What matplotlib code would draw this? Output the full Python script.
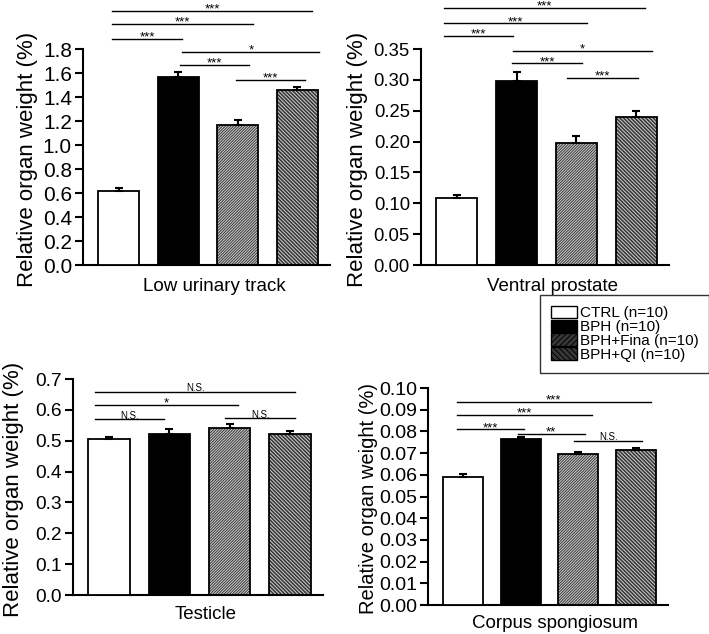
import numpy as np
import matplotlib
matplotlib.use('Agg')
import matplotlib.pyplot as plt
from matplotlib.patches import Patch
from matplotlib.ticker import FormatStrFormatter

plt.rcParams['font.family'] = ['Liberation Sans', 'DejaVu Sans']
plt.rcParams['hatch.linewidth'] = 0.7

groups = ['CTRL (n=10)', 'BPH (n=10)', 'BPH+Fina (n=10)', 'BPH+QI (n=10)']

# organ weights (mean, SEM)
urinary_mean = [0.62, 1.57, 1.17, 1.455]
urinary_err = [0.02, 0.035, 0.035, 0.025]
prostate_mean = [0.108, 0.298, 0.197, 0.240]
prostate_err = [0.006, 0.015, 0.012, 0.010]
testicle_mean = [0.505, 0.522, 0.541, 0.522]
testicle_err = [0.007, 0.015, 0.013, 0.010]
corpus_mean = [0.059, 0.0763, 0.0698, 0.0715]
corpus_err = [0.0012, 0.0012, 0.0008, 0.0010]

# significance brackets: (x start, x end, y, label)
urinary_sig = [(-0.11, 3.25, 2.117, '***'), (-0.11, 2.26, 2.008, '***'),
               (-0.11, 1.07, 1.883, '***'), (1.07, 3.37, 1.775, '*'),
               (1.03, 2.19, 1.667, '***'), (1.97, 3.13, 1.542, '***')]
prostate_sig = [(-0.21, 3.14, 0.4165, '***'), (-0.21, 2.17, 0.392, '***'),
                (-0.21, 0.94, 0.371, '***'), (0.94, 3.26, 0.347, '*'),
                (0.92, 2.10, 0.327, '***'), (1.85, 3.03, 0.303, '***')]
testicle_sig = [(-0.23, 3.09, 0.659, 'N.S.'), (-0.23, 2.14, 0.616, '*'),
                (-0.23, 0.91, 0.570, 'N.S.'), (1.92, 3.09, 0.573, 'N.S.')]
corpus_sig = [(-0.10, 3.25, 0.0937, '***'), (-0.10, 2.24, 0.0876, '***'),
              (-0.10, 1.06, 0.081, '***'), (0.95, 2.11, 0.0788, '**'),
              (1.93, 3.10, 0.0757, 'N.S.')]

dark = '#383838'
stripe = '#d0d0d0'
styles = [dict(color='white', hatch=None), dict(color='black', hatch=None),
          dict(color=dark, hatch='/' * 12), dict(color=dark, hatch='\\' * 9)]


def draw_panel(ax, means, errs, sig, ymax, step, fmt, xlabel, lab_x, lab_y,
               tick_size, ylab_size):
    x = np.arange(len(means))
    for i in range(len(means)):
        st = styles[i]
        if st['hatch']:
            ax.bar(x[i], means[i], width=0.69, color=st['color'],
                   edgecolor=stripe, hatch=st['hatch'], linewidth=0, zorder=2)
            ax.bar(x[i], means[i], width=0.69, fill=False,
                   edgecolor='black', linewidth=1.3, zorder=3)
        else:
            ax.bar(x[i], means[i], width=0.69, color=st['color'],
                   edgecolor='black', linewidth=1.3, zorder=3)
    ax.errorbar(x, means, yerr=[np.zeros(len(errs)), errs], fmt='none',
                ecolor='black', elinewidth=1.5, capsize=3, capthick=1.5, zorder=4)
    ax.set_xlim(-0.6, 3.55)
    ax.set_ylim(0, ymax)
    ax.set_yticks(np.arange(0, ymax + step / 2, step))
    ax.yaxis.set_major_formatter(FormatStrFormatter(fmt))
    ax.set_xticks([])
    ax.spines['top'].set_visible(False)
    ax.spines['right'].set_visible(False)
    ax.spines['left'].set_linewidth(1.5)
    ax.spines['bottom'].set_linewidth(1.5)
    ax.tick_params(axis='y', direction='out', length=6, width=1.5,
                   labelsize=tick_size, pad=2)
    ax.set_ylabel('Relative organ weight (%)', fontsize=ylab_size, va='center')
    ax.yaxis.set_label_coords(lab_x, 0.49)
    ax.set_xlabel(xlabel, fontsize=13.5)
    ax.xaxis.set_label_coords(0.53, lab_y)
    for x0, x1, y, lab in sig:
        ax.plot([x0, x1], [y, y], color='black', linewidth=1.0, clip_on=False)
        if lab.startswith('*'):
            ax.annotate(lab, ((x0 + x1) / 2, y), xytext=(0, -3.5),
                        textcoords='offset points', ha='center', va='bottom',
                        fontsize=9.5, annotation_clip=False)
        else:
            ax.annotate(lab, ((x0 + x1) / 2, y), xytext=(0, -1),
                        textcoords='offset points', ha='center', va='bottom',
                        fontsize=7, annotation_clip=False)


fig = plt.figure(figsize=(7.09, 6.34), dpi=100)
ax1 = fig.add_axes([0.1171, 0.582, 0.3483, 0.3407])
ax2 = fig.add_axes([0.5938, 0.582, 0.3498, 0.3407])
ax3 = fig.add_axes([0.1030, 0.0615, 0.3526, 0.3407])
ax4 = fig.add_axes([0.6037, 0.0457, 0.3385, 0.3423])

draw_panel(ax1, urinary_mean, urinary_err, urinary_sig, 1.8, 0.2, '%.1f',
           'Low urinary track', -0.225, -0.06, 15, 16)
draw_panel(ax2, prostate_mean, prostate_err, prostate_sig, 0.35, 0.05, '%.2f',
           'Ventral prostate', -0.255, -0.06, 13.3, 16)
draw_panel(ax3, testicle_mean, testicle_err, testicle_sig, 0.7, 0.1, '%.1f',
           'Testicle', -0.24, -0.05, 13.8, 16)
draw_panel(ax4, corpus_mean, corpus_err, corpus_sig, 0.10, 0.01, '%.2f',
           'Corpus spongiosum', -0.25, -0.045, 14, 14.5)

handles = []
for st in styles:
    if st['hatch']:
        handles.append(Patch(facecolor=st['color'], edgecolor='black',
                             hatch=st['hatch'][:6], linewidth=1))
    else:
        handles.append(Patch(facecolor=st['color'], edgecolor='black', linewidth=1))
leg = fig.legend(handles, groups, loc='upper left', bbox_to_anchor=(0.7616, 0.5347),
                 fontsize=11, frameon=True, fancybox=False, edgecolor='black',
                 labelspacing=-0.05, handlelength=1.7, handleheight=0.9,
                 handletextpad=0.2, borderpad=0.7, borderaxespad=0)
leg.get_frame().set_linewidth(1.0)

fig.savefig('out.png', dpi=100)
